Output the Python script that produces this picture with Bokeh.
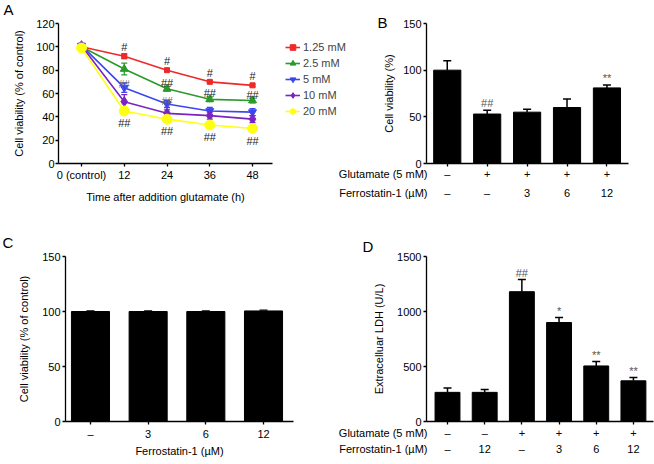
from bokeh.plotting import figure
from bokeh.models import Range1d, Legend, LegendItem, FixedTicker
from bokeh.layouts import column, row
from bokeh.embed import file_html
from bokeh.resources import INLINE
from bokeh.core.properties import value

FONT = "Liberation Sans"

# ---------------- Panel A data ----------------
times = [0, 12, 24, 36, 48]
time_labels = ["0 (control)", "12", "24", "36", "48"]
conc_labels = ["1.25 mM", "2.5 mM", "5 mM", "10 mM", "20 mM"]
via_125 = [100, 92, 80, 70, 67]
via_25 = [100, 81, 64, 55, 54]
via_5 = [101, 65, 51, 45, 44]
via_10 = [101, 53, 43, 41, 38]
via_20 = [99, 45, 38, 33, 30]
err_125 = [1, 2, 1, 1, 1]
err_25 = [2, 5, 2, 2, 2]
err_5 = [2, 4, 3, 3, 3]
err_10 = [2, 6, 3, 3, 3]
err_20 = [2, 3, 2, 2, 2]
sig_above_125 = ["", "#", "#", "#", "#"]
sig_above_25 = ["", "", "##", "##", "##"]
sig_on_5 = ["", "##", "##", "", ""]
sig_below_20 = ["", "##", "##", "##", "##"]
a_yticks = [0, 20, 40, 60, 80, 100, 120]
a_xtitle = "Time after addition glutamate (h)"

# ---------------- Panel B data ----------------
b_glutamate = ["–", "+", "+", "+", "+"]
b_ferrostatin = ["–", "–", "3", "6", "12"]
b_viability = [100, 53, 55, 60, 81]
b_err = [10, 4, 3, 9, 3]
b_sig = ["", "##", "", "", "**"]
b_yticks = [0, 50, 100, 150]

# ---------------- Panel C data ----------------
c_ferrostatin = ["–", "3", "6", "12"]
c_viability = [100, 100, 100, 100.5]
c_err = [0.5, 0.5, 0.5, 0.8]
c_yticks = [0, 50, 100, 150]

# ---------------- Panel D data ----------------
d_glutamate = ["–", "–", "+", "+", "+", "+"]
d_ferrostatin = ["–", "12", "–", "3", "6", "12"]
d_ldh = [265, 265, 1180, 900, 505, 370]
d_err = [40, 25, 110, 45, 40, 30]
d_sig = ["", "", "##", "*", "**", "**"]
d_yticks = [0, 500, 1000, 1500]

row_titles = ["Glutamate (5 mM)", "Ferrostatin-1 (µM)"]


def make_fig(w, h, left, right, top, bottom, xr, yr, **kw):
    p = figure(width=w, height=h, x_range=Range1d(*xr), y_range=Range1d(*yr),
               output_backend="svg", toolbar_location=None, title=None,
               min_border_left=left, min_border_right=right,
               min_border_top=top, min_border_bottom=bottom, **kw)
    p.xgrid.visible = False
    p.ygrid.visible = False
    p.outline_line_color = None
    for ax in p.axis:
        ax.axis_line_width = 1.3
        ax.axis_line_color = "black"
        ax.major_tick_line_width = 1.3
        ax.major_tick_line_color = "black"
        ax.major_tick_in = 0
        ax.major_tick_out = 3
        ax.minor_tick_line_color = None
        ax.major_label_text_font = FONT
        ax.major_label_text_font_size = "11px"
        ax.major_label_text_color = "black"
        ax.major_label_standoff = 2
        ax.axis_label_text_font = FONT
        ax.axis_label_text_font_size = "11px"
        ax.axis_label_text_font_style = "normal"
        ax.axis_label_text_color = "black"
    return p


def txt(p, xs, ys, texts, dy, color="#222", baseline="middle", align="center",
        dx=0, size="11px"):
    p.text(x=xs, y=ys, text=texts, text_align=align, text_baseline=baseline,
           x_offset=dx, y_offset=dy, text_font=value(FONT), text_font_size=size,
           text_color=color, level="overlay")


def panel_letter(p, t, dx, dy):
    # anchored at the frame's top-left corner, offset in pixels
    txt(p, [p.x_range.start], [p.y_range.end], [t], dy, color="black",
        baseline="top", align="left", dx=dx, size="15px")


def row_title(p, t, dy):
    txt(p, [p.x_range.start], [p.y_range.start], [t], dy, color="black",
        baseline="middle", align="right", dx=1)


# ================= Panel A =================
a_xlim = (-6.46, 53.61)
pA = make_fig(351, 230, 58, 1, 23, 65, (a_xlim[0], 75.5), (0, 120))
pA.xaxis.bounds = a_xlim
pA.xaxis.ticker = FixedTicker(ticks=times)
pA.xaxis.major_label_overrides = {t: l for t, l in zip(times, time_labels)}
pA.yaxis.ticker = FixedTicker(ticks=a_yticks)
pA.yaxis.major_label_standoff = 1
pA.yaxis.axis_label = "Cell viability (% of control)"
pA.yaxis.axis_label_standoff = 8
pA.background_fill_color = None
pA.border_fill_color = None

series = [
    (via_125, err_125, "#f02828", "square", 5),
    (via_25, err_25, "#2a9a2a", "triangle", 8),
    (via_5, err_5, "#3c46f0", "inverted_triangle", 8),
    (via_10, err_10, "#7a24c4", "diamond", 10),
    (via_20, err_20, "#ffff14", "circle", 10),
]
items = []
for (vals, errs, col, mk, sz), lab in zip(series, conc_labels):
    lo = [v - e for v, e in zip(vals, errs)]
    hi = [v + e for v, e in zip(vals, errs)]
    pA.segment(x0=times, y0=lo, x1=times, y1=hi, line_color=col, line_width=1.3)
    pA.scatter(x=times + times, y=lo + hi, marker="dash", size=6, line_color=col, line_width=1.3)
    lr = pA.line(times, vals, line_color=col, line_width=1.6)
    sr = pA.scatter(times, vals, marker=mk, size=sz, fill_color=col, line_color=col)
    items.append(LegendItem(label=lab, renderers=[lr, sr]))

legend = Legend(items=items, location=(227, 45), glyph_width=15, glyph_height=14,
                label_height=14, spacing=2, padding=0, margin=0, label_standoff=3,
                border_line_color=None, background_fill_alpha=0,
                label_text_font=FONT, label_text_font_size="11px")
pA.add_layout(legend)

txt(pA, times, via_125, sig_above_125, -9)
txt(pA, times, via_25, sig_above_25, -6)
txt(pA, times, via_5, sig_on_5, -3, color="#666", size="10px")
txt(pA, times, via_20, sig_below_20, 12)
# x-axis title centred under the bounded axis line
txt(pA, [sum(a_xlim) / 2], [0], [a_xtitle], 33, color="black")
panel_letter(pA, "A", -55, -23)

# ================= Panel B =================
b_idx = list(range(len(b_viability)))
pB = make_fig(320, 230, 92, 26, 10, 67, (-0.52, 4.54), (0, 150), margin=(0, 0, 0, -17))
pB.border_fill_color = None
pB.xaxis.ticker = FixedTicker(ticks=b_idx)
pB.xaxis.major_label_text_color = None
pB.yaxis.ticker = FixedTicker(ticks=b_yticks)
pB.yaxis.axis_label = "Cell viability (%)"
pB.yaxis.axis_label_standoff = 5
pB.vbar(x=b_idx, top=b_viability, width=0.68, fill_color="black", line_color="black")
b_hi = [v + e for v, e in zip(b_viability, b_err)]
pB.segment(x0=b_idx, y0=b_viability, x1=b_idx, y1=b_hi, line_color="black", line_width=1.5)
pB.scatter(x=b_idx, y=b_hi, marker="dash", size=8, line_color="black", line_width=1.5)
txt(pB, b_idx, b_hi, b_sig, -1, color="#555", baseline="bottom")
txt(pB, b_idx, [0] * len(b_idx), b_glutamate, 10, color="black")
txt(pB, b_idx, [0] * len(b_idx), b_ferrostatin, 29, color="black")
row_title(pB, row_titles[0], 10)
row_title(pB, row_titles[1], 29)
panel_letter(pB, "B", -49, -10)

# ================= Panel C =================
c_idx = list(range(len(c_viability)))
pC = make_fig(333, 234, 65, 40, 25, 42, (-0.433, 3.52), (0, 150))
pC.xaxis.ticker = FixedTicker(ticks=c_idx)
pC.xaxis.major_label_overrides = {i: l for i, l in zip(c_idx, c_ferrostatin)}
pC.xaxis.major_label_standoff = 3
pC.xaxis.axis_label = "Ferrostatin-1 (µM)"
pC.xaxis.axis_label_standoff = 2
pC.yaxis.ticker = FixedTicker(ticks=c_yticks)
pC.yaxis.axis_label = "Cell viability (% of control)"
pC.yaxis.axis_label_standoff = 9
pC.vbar(x=c_idx, top=c_viability, width=0.66, fill_color="black", line_color="black")
c_hi = [v + e for v, e in zip(c_viability, c_err)]
pC.scatter(x=c_idx, y=c_hi, marker="dash", size=8, line_color="black", line_width=1.3)
panel_letter(pC, "C", -63, -23)

# ================= Panel D =================
d_idx = list(range(len(d_ldh)))
pD = make_fig(321, 234, 93, 1, 26, 43, (-0.565, 5.54), (0, 1500))
pD.xaxis.ticker = FixedTicker(ticks=d_idx)
pD.xaxis.major_label_text_color = None
pD.yaxis.ticker = FixedTicker(ticks=d_yticks)
pD.yaxis.axis_label = "Extracelluar LDH (U/L)"
pD.yaxis.axis_label_standoff = 9
pD.vbar(x=d_idx, top=d_ldh, width=0.67, fill_color="black", line_color="black")
d_hi = [v + e for v, e in zip(d_ldh, d_err)]
pD.segment(x0=d_idx, y0=d_ldh, x1=d_idx, y1=d_hi, line_color="black", line_width=1.5)
pD.scatter(x=d_idx, y=d_hi, marker="dash", size=8, line_color="black", line_width=1.5)
txt(pD, d_idx, d_hi, d_sig, -1, color="#555", baseline="bottom")
txt(pD, d_idx, [0] * len(d_idx), d_glutamate, 11, color="black")
txt(pD, d_idx, [0] * len(d_idx), d_ferrostatin, 27, color="black")
row_title(pD, row_titles[0], 11)
row_title(pD, row_titles[1], 27)
panel_letter(pD, "D", -64, -19)

layout = column(row(pA, pB), row(pC, pD))
open("out.html", "w").write(file_html(layout, INLINE))
